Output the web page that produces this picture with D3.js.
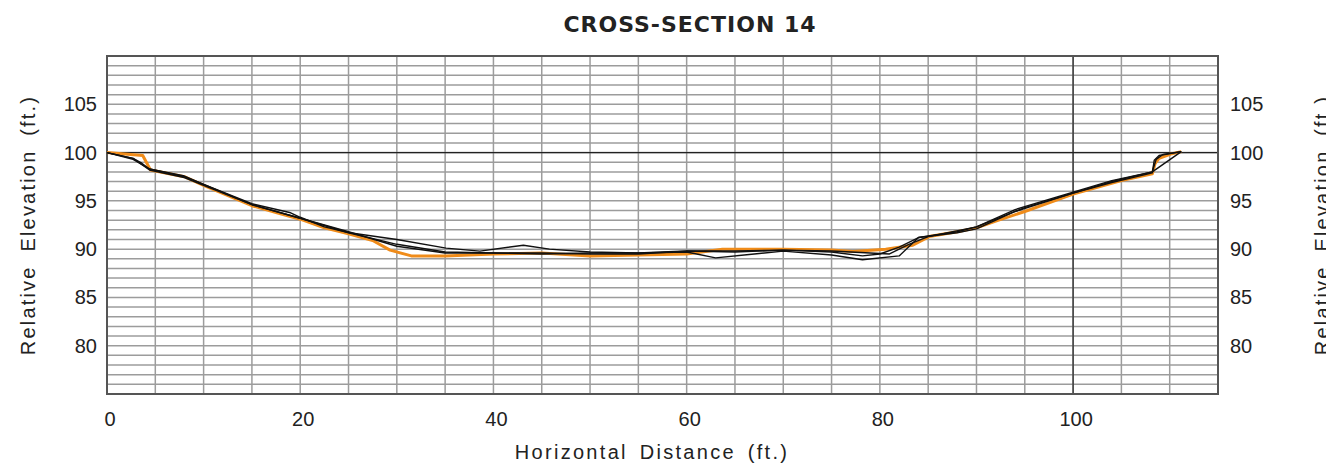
<!DOCTYPE html>
<html>
<head>
<meta charset="utf-8">
<script src="https://cdn.jsdelivr.net/npm/d3@7"></script>
<style>
  body { margin: 0; background: #fff; }
  text { font-family: "Liberation Sans", Arial, sans-serif; fill: #222; }
</style>
</head>
<body>
<svg id="chart" width="1326" height="469"></svg>
<script>
// survey data: [horizontal distance ft, relative elevation ft]
const surveyOrange = [[0,100],[3.7,99.7],[4.5,98.2],[8,97.5],[10,96.6],[15,94.5],[17.5,93.8],[20,93.1],[22.5,92.2],[25,91.6],[27.5,90.9],[29.3,89.9],[31.5,89.3],[35,89.3],[40,89.5],[45,89.6],[50,89.3],[55,89.4],[60,89.5],[63.7,90.0],[70,90.0],[75,89.9],[77.2,89.75],[80.6,90.0],[83.4,90.4],[85.1,91.3],[88,91.8],[90,92.2],[92.3,93.0],[95,93.9],[100,95.7],[105,97.1],[108.2,97.8],[108.5,98.9],[108.9,99.4],[110.1,99.85],[111.2,100.1]];
const surveyA = [[0,100],[2.7,99.4],[3.6,98.9],[4.4,98.3],[7.9,97.6],[10,96.7],[15,94.7],[18.9,93.8],[20,93.3],[22.5,92.3],[25.1,91.7],[30,91.0],[35.1,90.1],[38.6,89.8],[43.1,90.4],[45.8,90.0],[50,89.7],[55,89.6],[60,89.8],[65,89.7],[70,89.9],[75,89.7],[78.2,89.3],[80,89.5],[82,90.2],[84,91.2],[88,91.8],[90,92.3],[94,94.1],[100,95.9],[104,97.1],[108.2,98.0],[111.2,100.1]];
const surveyB = [[0,100],[2.7,99.4],[4.4,98.2],[8,97.4],[10,96.6],[15,94.6],[20,93.2],[25,91.7],[30,90.5],[35,89.7],[40,89.6],[45,89.5],[50,89.6],[55,89.6],[60,89.7],[63,89.1],[67,89.5],[70,89.8],[75,89.4],[78.2,88.9],[82,89.3],[84,91.2],[88,91.7],[90,92.1],[94,93.9],[100,95.8],[104,96.9],[108.2,97.9],[108.4,99.2],[108.9,99.7],[111.2,100.1]];
const surveyC = [[0,100],[2.7,99.3],[4.4,98.3],[8,97.5],[10,96.7],[15,94.6],[20,93.2],[25,91.8],[30,90.3],[35,89.6],[40,89.6],[45,89.6],[50,89.5],[55,89.5],[60,89.8],[65,89.8],[70,89.9],[75,89.8],[79,89.6],[81,89.5],[83,90.5],[85,91.3],[90,92.3],[95,94.3],[100,95.8],[104,97.0],[108.2,98.0],[108.6,99.3],[109.3,99.8],[111.2,100.1]];

const xTicks = [0, 20, 40, 60, 80, 100];
const yTicks = [80, 85, 90, 95, 100, 105];

const svg = d3.select("#chart"),
  margin = {top: 56, left: 107, right: 108, bottom: 75},
  width = +svg.attr("width") - margin.left - margin.right,
  height = +svg.attr("height") - margin.top - margin.bottom;

const x = d3.scaleLinear().domain([0, 115]).range([margin.left, margin.left + width]);
const y = d3.scaleLinear().domain([75, 110]).range([margin.top + height, margin.top]);

// grid: vertical every 5 ft, horizontal every 1 ft
const grid = svg.append("g").attr("stroke", "#9c9c9c").attr("stroke-width", 1.5);
grid.selectAll(".v").data(d3.range(5, 115, 5)).enter().append("line")
  .attr("x1", d => x(d)).attr("x2", d => x(d))
  .attr("y1", y(75)).attr("y2", y(110));
grid.selectAll(".h").data(d3.range(76, 110, 1)).enter().append("line")
  .attr("y1", d => y(d)).attr("y2", d => y(d))
  .attr("x1", x(0)).attr("x2", x(115));

// reference lines at 100
svg.append("line").attr("x1", x(100)).attr("x2", x(100)).attr("y1", y(75)).attr("y2", y(110))
  .attr("stroke", "#222").attr("stroke-width", 1.2);
svg.append("line").attr("x1", x(0)).attr("x2", x(115)).attr("y1", y(100)).attr("y2", y(100))
  .attr("stroke", "#222").attr("stroke-width", 1.2);

// border
svg.append("rect").attr("x", x(0)).attr("y", y(110))
  .attr("width", x(115) - x(0)).attr("height", y(75) - y(110))
  .attr("fill", "none").attr("stroke", "#555").attr("stroke-width", 2);

const line = d3.line().x(d => x(d[0])).y(d => y(d[1]));

const plot = svg.append("g").attr("fill", "none").attr("stroke-linejoin", "round");
plot.append("path").datum(surveyOrange).attr("d", line).attr("stroke", "#f08c1a").attr("stroke-width", 3);
[surveyA, surveyB, surveyC].forEach(s => {
  plot.append("path").datum(s).attr("d", line).attr("stroke", "#111").attr("stroke-width", 1.4);
});

// tick labels
svg.selectAll(".xt").data(xTicks).enter().append("text")
  .attr("x", d => x(d) + 3).attr("y", 426)
  .attr("text-anchor", "middle").style("font-size", "20px")
  .text(d => d);
svg.selectAll(".yl").data(yTicks).enter().append("text")
  .attr("x", 97).attr("y", d => y(d) + 7)
  .attr("text-anchor", "end").style("font-size", "20px")
  .text(d => d);
svg.selectAll(".yr").data(yTicks).enter().append("text")
  .attr("x", 1230).attr("y", d => y(d) + 7)
  .attr("text-anchor", "start").style("font-size", "20px")
  .text(d => d);

// titles
svg.append("text").attr("x", 690).attr("y", 32).attr("text-anchor", "middle")
  .style("font-family", "'DejaVu Sans', sans-serif").style("font-weight", "bold")
  .style("font-size", "22px").style("letter-spacing", "1px")
  .text("CROSS-SECTION 14");
svg.append("text").attr("x", 652).attr("y", 459).attr("text-anchor", "middle")
  .style("font-size", "20px").style("letter-spacing", "2.3px").style("word-spacing", "4px")
  .text("Horizontal Distance (ft.)");
svg.append("text").attr("transform", "translate(35,225) rotate(-90)").attr("text-anchor", "middle")
  .style("font-size", "20px").style("letter-spacing", "2.2px").style("word-spacing", "6px")
  .text("Relative Elevation (ft.)");
svg.append("text").attr("transform", "translate(1329,225) rotate(-90)").attr("text-anchor", "middle")
  .style("font-size", "20px").style("letter-spacing", "2.2px").style("word-spacing", "6px")
  .text("Relative Elevation (ft.)");
</script>
</body>
</html>
